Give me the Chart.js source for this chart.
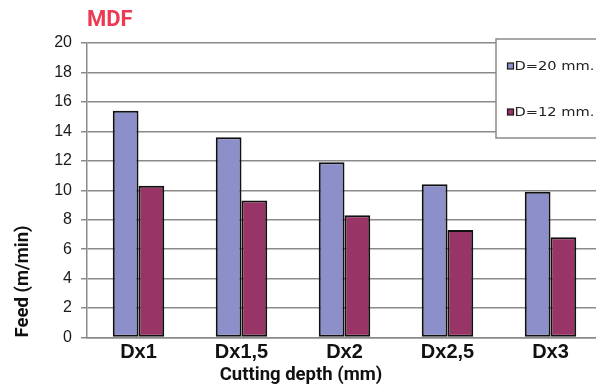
<!DOCTYPE html>
<html><head><meta charset="utf-8">
<script src="https://cdn.jsdelivr.net/npm/chart.js@4"></script>
<style>
html,body{margin:0;padding:0;background:#fff;overflow:hidden;width:596px;height:386px}
#wrap{width:602px;height:386px}
</style>
</head><body><div id="wrap"><canvas id="c" width="602" height="386"></canvas></div>
<script>
const categories = ['Dx1', 'Dx1,5', 'Dx2', 'Dx2,5', 'Dx3'];
const seriesD20 = [15.4, 13.6, 11.9, 10.4, 9.9];
const seriesD12 = [10.3, 9.3, 8.3, 7.3, 6.8];
const seriesLabels = ['D=20 mm.', 'D=12 mm.'];
const yMin = 0, yMax = 20, yStep = 2;
const chartTitle = 'MDF';
const xTitle = 'Cutting depth (mm)';
const yTitle = 'Feed (m/min)';

const NARROW = 'Roboto, "Liberation Sans", Arial, sans-serif';
const SANS = '"Liberation Sans", Arial, Helvetica, sans-serif';

const boxLegend = {
  id: 'boxLegend',
  afterDatasetsDraw(chart) {
    const {ctx, chartArea: a} = chart;
    const x0 = a.right - 106, y0 = a.top - 4, y1 = a.top + 95;
    const xr = chart.width + 10;
    ctx.save();
    ctx.fillStyle = '#ffffff';
    ctx.fillRect(x0, y0, xr - x0, y1 - y0);
    ctx.strokeStyle = '#8a8a8a';
    ctx.lineWidth = 1.5;
    ctx.beginPath();
    ctx.moveTo(xr, y0); ctx.lineTo(x0, y0); ctx.lineTo(x0, y1); ctx.lineTo(xr, y1);
    ctx.stroke();
    chart.data.datasets.forEach((ds, i) => {
      const cy = y0 + 27 + i * 46;
      ctx.fillStyle = ds.backgroundColor;
      ctx.fillRect(x0 + 11.5, cy - 3, 6, 6);
      ctx.strokeStyle = '#1a1a1a';
      ctx.lineWidth = 1.2;
      ctx.strokeRect(x0 + 11.5, cy - 3, 6, 6);
      ctx.save();
      ctx.translate(x0 + 18.5, cy + 0.5);
      ctx.scale(1.22, 1);
      ctx.fillStyle = '#222';
      ctx.font = '12px "DejaVu Sans", Arial, sans-serif';
      ctx.textBaseline = 'middle';
      ctx.textAlign = 'left';
      ctx.fillText(ds.label, 0, 0);
      ctx.restore();
    });
    ctx.restore();
  }
};

new Chart(document.getElementById('c'), {
  type: 'bar',
  data: {
    labels: categories,
    datasets: [
      {label: seriesLabels[0], data: seriesD20, backgroundColor: '#8c8fca', borderColor: '#111', borderWidth: 2, borderSkipped: false},
      {label: seriesLabels[1], data: seriesD12, backgroundColor: '#993466', borderColor: '#111', borderWidth: 2, borderSkipped: false}
    ]
  },
  options: {
    responsive: false,
    devicePixelRatio: 1,
    animation: false,
    layout: {padding: {left: 0, right: 0, top: 0, bottom: 0}},
    datasets: {bar: {barPercentage: 1, categoryPercentage: 0.5}},
    plugins: {
      legend: {display: false},
      tooltip: {enabled: false},
      title: {
        display: true, text: chartTitle, align: 'start', fullSize: false,
        color: '#ec3a55', font: {family: NARROW, size: 22, weight: 'bold', lineHeight: 1.2},
        padding: {top: 7.5, bottom: 9.1}
      },
      subtitle: {
        display: true, text: xTitle, position: 'bottom', align: 'center', fullSize: true,
        color: '#111', font: {family: NARROW, size: 18.5, weight: 'bold', lineHeight: 1},
        padding: {top: 0, bottom: 1}
      }
    },
    scales: {
      x: {
        grid: {display: false, drawTicks: false},
        border: {display: true, color: '#8a8a8a', width: 1.5},
        ticks: {color: '#111', padding: 1.5, font: {family: SANS, size: 20, weight: 'bold', lineHeight: 1.3}}
      },
      y: {
        min: yMin, max: yMax,
        afterFit(scale) { scale.width = 87; },
        grid: {color: '#8a8a8a', lineWidth: 1.5, tickLength: 6, drawTicks: true},
        border: {display: true, color: '#8a8a8a', width: 1.5},
        ticks: {stepSize: yStep, color: '#1a1a1a', padding: 9, font: {family: SANS, size: 16}},
        title: {
          display: true, text: yTitle, align: 'start', color: '#111',
          font: {family: NARROW, size: 18.5, weight: 'bold', lineHeight: 1.2},
          padding: {top: 12, bottom: 0}
        }
      }
    }
  },
  plugins: [boxLegend]
});
</script>
</body></html>
